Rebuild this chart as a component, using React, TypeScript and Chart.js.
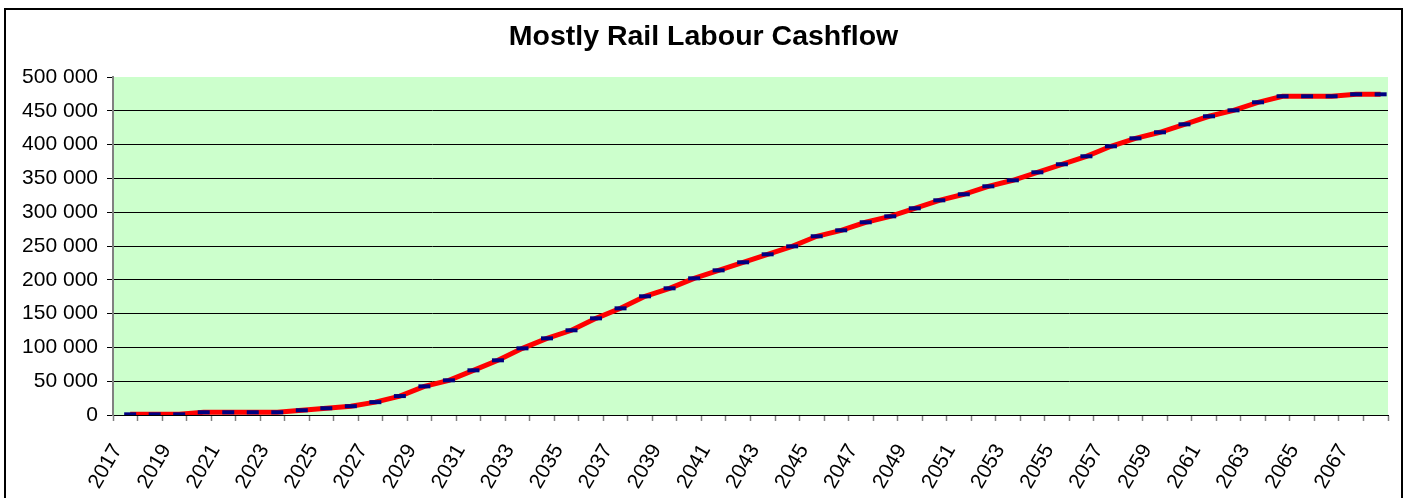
import React, { useEffect, useRef } from 'react';
import { Chart, registerables } from 'chart.js';

Chart.register(...registerables);

const chartTitle = 'Mostly Rail Labour Cashflow';

const years: string[] = [
  '2017', '2018', '2019', '2020', '2021', '2022', '2023', '2024', '2025', '2026',
  '2027', '2028', '2029', '2030', '2031', '2032', '2033', '2034', '2035', '2036',
  '2037', '2038', '2039', '2040', '2041', '2042', '2043', '2044', '2045', '2046',
  '2047', '2048', '2049', '2050', '2051', '2052', '2053', '2054', '2055', '2056',
  '2057', '2058', '2059', '2060', '2061', '2062', '2063', '2064', '2065', '2066',
  '2067', '2068',
];

const cashflow: number[] = [
  1000, 1000, 1000, 4000, 4000, 4000, 4000, 7000, 10000, 13000,
  19000, 28000, 42400, 51300, 66100, 80900, 98600, 113400, 125300, 143000,
  157800, 175600, 187400, 202200, 214000, 225900, 237700, 249500, 264400, 273200,
  285100, 293900, 305800, 317600, 326500, 338300, 347200, 359000, 370900, 382700,
  397500, 409300, 418200, 430000, 441900, 450700, 462600, 471500, 471500, 471500,
  474400, 474400,
];

const xTickLabels: string[] = [
  '2017', '2019', '2021', '2023', '2025', '2027', '2029', '2031', '2033', '2035',
  '2037', '2039', '2041', '2043', '2045', '2047', '2049', '2051', '2053', '2055',
  '2057', '2059', '2061', '2063', '2065', '2067',
];

const yMin = 0;
const yMax = 500000;
const yStep = 50000;

const FONT = '"Liberation Sans", Arial, sans-serif';

const fmt = (v: number) => String(v).replace(/\B(?=(\d{3})+(?!\d))/g, ' ');

const frame = {
  id: 'frame',
  beforeDraw(chart: any) {
    const { ctx, chartArea } = chart;
    ctx.save();
    ctx.fillStyle = '#ffffff';
    ctx.fillRect(0, 0, chart.width, chart.height);
    ctx.fillStyle = '#CCFFCC';
    ctx.fillRect(chartArea.left, chartArea.top, chartArea.right - chartArea.left, chartArea.bottom - chartArea.top);
    ctx.restore();
  },
  afterDraw(chart: any) {
    const { ctx } = chart;
    ctx.save();
    ctx.strokeStyle = '#000000';
    ctx.lineWidth = 2;
    ctx.strokeRect(5, 9, 1397, 600);
    ctx.restore();
  },
};

export default function App() {
  const ref = useRef<HTMLCanvasElement | null>(null);

  useEffect(() => {
    if (!ref.current) return;
    const points = years.map((y, i) => ({ x: Number(y), y: cashflow[i] }));
    const chart = new Chart(ref.current, {
      type: 'line',
      data: {
        labels: years,
        datasets: [
          {
            label: 'Cashflow',
            data: points as any,
            xAxisID: 'xData',
            yAxisID: 'y',
            borderColor: '#FF0000',
            borderWidth: 5,
            tension: 0,
            fill: false,
            pointStyle: 'line',
            pointRadius: 6,
            pointHoverRadius: 6,
            pointBorderWidth: 4,
            pointBorderColor: '#000080',
            pointBackgroundColor: '#000080',
          },
        ],
      },
      options: {
        responsive: false,
        animation: false,
        devicePixelRatio: 1,
        layout: { padding: { left: 0, top: 10, right: 0, bottom: 0 } },
        plugins: {
          legend: { display: false },
          tooltip: { enabled: false },
          title: {
            display: true,
            text: chartTitle,
            color: '#000000',
            font: { family: FONT, size: 28.5, weight: 'bold' },
            padding: { top: 10, bottom: 22.8 },
          },
        },
        scales: {
          x: {
            type: 'category',
            position: 'bottom',
            bounds: 'ticks',
            offset: true,
            grid: {
              display: true,
              drawOnChartArea: false,
              drawTicks: true,
              tickLength: 6,
              offset: true,
              color: '#808080',
              tickColor: '#808080',
              tickWidth: 1.5,
            },
            border: { display: true, color: '#000000', width: 1 },
            ticks: {
              autoSkip: false,
              maxRotation: 60,
              minRotation: 60,
              padding: 19,
              labelOffset: -8,
              color: '#000000',
              font: { family: FONT, size: 21 },
              callback: function (this: any, value: any) {
                const l = this.getLabelForValue(value);
                return xTickLabels.includes(l) ? l : '';
              },
            },
            afterFit: (scale: any) => {
              scale.height = 83;
              scale.paddingLeft = 0;
              scale.paddingRight = 19;
            },
          },
          xData: {
            type: 'linear',
            axis: 'x',
            position: 'bottom',
            display: false,
            min: Number(years[0]) - 0.7,
            max: Number(years[years.length - 1]) + 0.3,
            afterFit: (scale: any) => {
              scale.paddingLeft = 0;
              scale.paddingRight = 19;
            },
          },
          y: {
            type: 'linear',
            min: yMin,
            max: yMax,
            grid: {
              color: (c: any) => (c.tick && c.tick.value === yMax ? 'rgba(0,0,0,0)' : '#000000'),
              tickColor: '#000000',
              tickLength: 6,
              lineWidth: 1,
            },
            border: { display: true, color: '#808080', width: 2 },
            ticks: {
              stepSize: yStep,
              padding: 9,
              color: '#000000',
              font: { family: FONT, size: 21 },
              callback: (v: any) => fmt(Number(v)),
            },
            afterFit: (scale: any) => {
              scale.width = 113;
            },
          },
        },
      },
      plugins: [frame],
    });
    return () => chart.destroy();
  }, []);

  return (
    <div style={{ position: 'absolute', left: 0, top: 0, width: 1407, height: 498 }}>
      <canvas ref={ref} width={1407} height={498} style={{ display: 'block', width: 1407, height: 498 }} />
    </div>
  );
}
